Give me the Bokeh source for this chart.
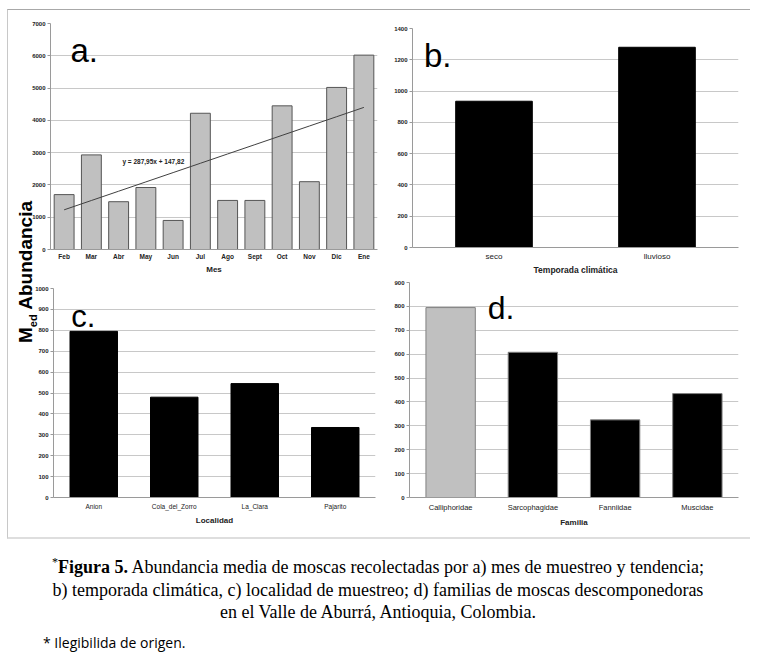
import numpy as np
from bokeh.plotting import figure
from bokeh.models import FactorRange, Range1d, Label, Div, SingleIntervalTicker
from bokeh.layouts import row, column
from bokeh.embed import file_html
from bokeh.resources import INLINE

# ---------------- data ----------------
months = ["Feb", "Mar", "Abr", "May", "Jun", "Jul", "Ago", "Sept", "Oct", "Nov", "Dic", "Ene"]
month_vals = [1700, 2930, 1480, 1920, 900, 4220, 1520, 1520, 4450, 2100, 5020, 6020]
trend_label = "y = 287,95x + 147,82"

seasons = ["seco", "lluvioso"]
season_vals = [935, 1280]

localities = ["Anion", "Cola_del_Zorro", "La_Clara", "Pajarito"]
locality_vals = [795, 480, 545, 335]

families = ["Calliphoridae", "Sarcophagidae", "Fanniidae", "Muscidae"]
family_vals = [795, 608, 325, 435]
family_colors = ["#c0c0c0", "#000000", "#000000", "#000000"]

FONT = "Liberation Sans"


def make_panel(factors, ymax, step, width, height, borders, xlabel,
               xfs="7px", xstyle="normal"):
    left, right, top, bottom = borders
    p = figure(x_range=FactorRange(*factors), y_range=Range1d(0, ymax),
               width=width, height=height, toolbar_location=None,
               output_backend="svg", min_border_left=left,
               min_border_right=right, min_border_top=top,
               min_border_bottom=bottom, frame_align=False)
    p.outline_line_color = None
    p.xgrid.grid_line_color = None
    p.ygrid.grid_line_color = "#c8c8c8"
    p.yaxis.ticker = SingleIntervalTicker(interval=step, num_minor_ticks=0)
    for ax in p.axis:
        ax.axis_line_color = "#9a9a9a"
        ax.major_tick_line_color = "#9a9a9a"
        ax.minor_tick_line_color = None
        ax.major_tick_out = 3
        ax.major_tick_in = 0
        ax.major_label_standoff = 2
        ax.major_label_text_font = FONT
        ax.major_label_text_color = "#222222"
    p.yaxis.major_label_text_font_size = "6px"
    p.yaxis.major_label_text_font_style = "bold"
    p.xaxis.major_tick_line_color = None
    p.xaxis.major_label_text_font_size = xfs
    p.xaxis.major_label_text_font_style = xstyle
    p.xaxis.axis_label = xlabel
    p.xaxis.axis_label_text_font = FONT
    p.xaxis.axis_label_text_font_size = "8px"
    p.xaxis.axis_label_text_font_style = "bold"
    p.xaxis.axis_label_text_color = "#222222"
    p.xaxis.axis_label_standoff = 3
    return p


def panel_letter(p, txt, x, y, size="32px"):
    p.add_layout(Label(x=x, y=y, text=txt, text_font=FONT, text_font_size=size,
                       text_baseline="alphabetic", text_color="#000000"))


# ---------------- panel a ----------------
pa = make_panel(months, 7000, 1000, 352, 267, (22, 3, 13, 28), "Mes",
                xfs="6.5px", xstyle="bold")
pa.xaxis.major_label_standoff = 0
pa.xaxis.axis_label_standoff = 2
pa.vbar(x=months, top=month_vals, width=0.73, fill_color="#c0c0c0",
        line_color="#555555", line_width=1)
xs = np.arange(1, len(month_vals) + 1)
slope, intercept = np.polyfit(xs, month_vals, 1)
trend = slope * xs + intercept
pa.line(x=months, y=trend, line_color="#404040", line_width=1)
pa.add_layout(Label(x=2.64, y=2720, text=trend_label, text_font=FONT,
                    text_font_size="6.5px", text_font_style="bold",
                    text_baseline="middle", text_color="#222222"))
panel_letter(pa, "a.", 0.73, 6150, "33px")

# ---------------- panel b ----------------
pb = make_panel(seasons, 1400, 200, 370, 267, (32, 12, 18, 27),
                "Temporada climática", xfs="8px")
pb.vbar(x=seasons, top=season_vals, width=0.47, fill_color="#000000",
        line_color="#000000")
pb.xaxis.axis_label_text_font_size = "8.5px"
pb.xaxis.axis_label_standoff = 1
pb.xaxis.major_label_standoff = 1
panel_letter(pb, "b.", 0.07, 1228, "33px")

# ---------------- panel c ----------------
pc = make_panel(localities, 1000, 100, 352, 260, (25, 5, 11, 40),
                "Localidad", xfs="6.5px")
pc.vbar(x=localities, top=locality_vals, width=0.59, fill_color="#000000",
        line_color="#000000")
panel_letter(pc, "c.", 0.22, 866, "31px")

# ---------------- panel d ----------------
pd_ = make_panel(families, 900, 100, 370, 260, (29, 12, 5, 40),
                 "Familia", xfs="7.5px")
pd_.vbar(x=families, top=family_vals, width=0.6, fill_color=family_colors,
         line_color="#808080", line_width=1)
panel_letter(pd_, "d.", 0.95, 792, "32px")

# ---------------- shared y label (rotated) ----------------
ylabel_html = (
    '<div style="position:absolute;left:8px;top:333px;transform:rotate(-90deg);'
    'transform-origin:0 0;white-space:nowrap;font-family:\'Liberation Sans\';'
    'font-weight:bold;font-size:19px;line-height:19px;color:#000;">'
    'M<sub style="font-size:11px">ed</sub> Abundancia</div>'
)
ylabel = Div(text=ylabel_html, width=20, height=527, margin=(0, 0, 0, 0),
             styles={"overflow": "visible", "position": "relative",
                     "z-index": "5"})

charts = row(ylabel, column(row(pa, pb), row(pc, pd_)),
             styles={"border-top": "1px solid #a8a8a8",
                     "border-left": "1px solid #c8c8c8",
                     "border-bottom": "2px solid #dedede"})

caption_html = (
    '<div style="font-family:\'Liberation Serif\';font-size:18px;line-height:22.5px;'
    'text-align:center;color:#000;width:742px;">'
    '<span style="font-size:12px;vertical-align:top;line-height:12px;">*</span>'
    '<b>Figura 5.</b> Abundancia media de moscas '
    'recolectadas por a) mes de muestreo y tendencia;<br>'
    'b) temporada climática, c) localidad de muestreo; d) familias de moscas '
    'descomponedoras<br>'
    'en el Valle de Aburrá, Antioquia, Colombia.</div>'
    '<div style="font-family:\'Open Sans\';font-size:14px;margin-top:9px;'
    'padding-left:36px;color:#000;">* Ilegibilida de origen.</div>'
)
caption = Div(text=caption_html, width=742, margin=(17, 0, 0, 0))

layout = column(charts, caption, margin=(9, 0, 0, 7))

with open("out.html", "w") as f:
    f.write(file_html(layout, INLINE))
